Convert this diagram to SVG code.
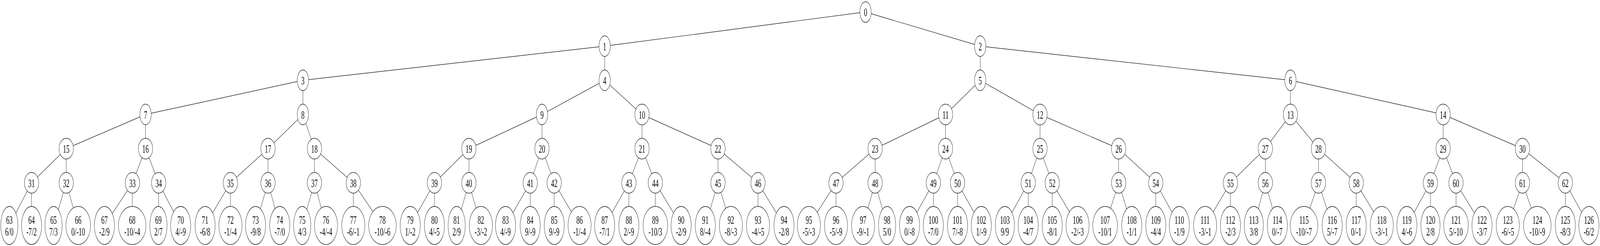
<svg xmlns="http://www.w3.org/2000/svg" width="7200" height="630" viewBox="0 0 7200 630" preserveAspectRatio="none">
<style>
@media (max-width: 7190px), (max-height: 620px) { svg{width:100vw;height:100vh;filter:grayscale(1)} }
.e{stroke:#000;stroke-width:1.2;fill:none}
.n ellipse{fill:#fff;stroke:#000;stroke-width:1.2}
.n text{font-family:"Liberation Serif","Times New Roman",serif;font-size:29px;text-anchor:middle;fill:#000;text-rendering:geometricPrecision}
</style>
<rect width="7200" height="630" fill="#fff"/>
<g id="edges" class="e">
<line x1="3894" y1="30.7" x2="2721" y2="118.2"/>
<line x1="3894" y1="30.7" x2="4411" y2="118.2"/>
<line x1="2721" y1="118.2" x2="1363" y2="205.7"/>
<line x1="2721" y1="118.2" x2="2721" y2="205.7"/>
<line x1="4411" y1="118.2" x2="4411" y2="205.7"/>
<line x1="4411" y1="118.2" x2="5807" y2="205.7"/>
<line x1="1363" y1="205.7" x2="655" y2="293.2"/>
<line x1="1363" y1="205.7" x2="1363" y2="293.2"/>
<line x1="2721" y1="205.7" x2="2439" y2="293.2"/>
<line x1="2721" y1="205.7" x2="2889" y2="293.2"/>
<line x1="4411" y1="205.7" x2="4255" y2="293.2"/>
<line x1="4411" y1="205.7" x2="4680" y2="293.2"/>
<line x1="5807" y1="205.7" x2="5807" y2="293.2"/>
<line x1="5807" y1="205.7" x2="6494" y2="293.2"/>
<line x1="655" y1="293.2" x2="298" y2="380.7"/>
<line x1="655" y1="293.2" x2="655" y2="380.7"/>
<line x1="1363" y1="293.2" x2="1206" y2="380.7"/>
<line x1="1363" y1="293.2" x2="1415" y2="380.7"/>
<line x1="2439" y1="293.2" x2="2110" y2="380.7"/>
<line x1="2439" y1="293.2" x2="2439" y2="380.7"/>
<line x1="2889" y1="293.2" x2="2889" y2="380.7"/>
<line x1="2889" y1="293.2" x2="3231" y2="380.7"/>
<line x1="4255" y1="293.2" x2="3938" y2="380.7"/>
<line x1="4255" y1="293.2" x2="4255" y2="380.7"/>
<line x1="4680" y1="293.2" x2="4680" y2="380.7"/>
<line x1="4680" y1="293.2" x2="5034" y2="380.7"/>
<line x1="5807" y1="293.2" x2="5694" y2="380.7"/>
<line x1="5807" y1="293.2" x2="5933" y2="380.7"/>
<line x1="6494" y1="293.2" x2="6494" y2="380.7"/>
<line x1="6494" y1="293.2" x2="6851" y2="380.7"/>
<line x1="298" y1="380.7" x2="142" y2="468.2"/>
<line x1="298" y1="380.7" x2="298" y2="468.2"/>
<line x1="655" y1="380.7" x2="596" y2="468.2"/>
<line x1="655" y1="380.7" x2="714" y2="468.2"/>
<line x1="1206" y1="380.7" x2="1037" y2="468.2"/>
<line x1="1206" y1="380.7" x2="1206" y2="468.2"/>
<line x1="1415" y1="380.7" x2="1415" y2="468.2"/>
<line x1="1415" y1="380.7" x2="1590" y2="468.2"/>
<line x1="2110" y1="380.7" x2="1955" y2="468.2"/>
<line x1="2110" y1="380.7" x2="2110" y2="468.2"/>
<line x1="2439" y1="380.7" x2="2386" y2="468.2"/>
<line x1="2439" y1="380.7" x2="2494" y2="468.2"/>
<line x1="2889" y1="380.7" x2="2830" y2="468.2"/>
<line x1="2889" y1="380.7" x2="2949" y2="468.2"/>
<line x1="3231" y1="380.7" x2="3231" y2="468.2"/>
<line x1="3231" y1="380.7" x2="3411" y2="468.2"/>
<line x1="3938" y1="380.7" x2="3762" y2="468.2"/>
<line x1="3938" y1="380.7" x2="3938" y2="468.2"/>
<line x1="4255" y1="380.7" x2="4200" y2="468.2"/>
<line x1="4255" y1="380.7" x2="4309" y2="468.2"/>
<line x1="4680" y1="380.7" x2="4627" y2="468.2"/>
<line x1="4680" y1="380.7" x2="4735" y2="468.2"/>
<line x1="5034" y1="380.7" x2="5034" y2="468.2"/>
<line x1="5034" y1="380.7" x2="5201" y2="468.2"/>
<line x1="5694" y1="380.7" x2="5537" y2="468.2"/>
<line x1="5694" y1="380.7" x2="5694" y2="468.2"/>
<line x1="5933" y1="380.7" x2="5933" y2="468.2"/>
<line x1="5933" y1="380.7" x2="6103" y2="468.2"/>
<line x1="6494" y1="380.7" x2="6437" y2="468.2"/>
<line x1="6494" y1="380.7" x2="6552" y2="468.2"/>
<line x1="6851" y1="380.7" x2="6851" y2="468.2"/>
<line x1="6851" y1="380.7" x2="7044" y2="468.2"/>
<line x1="142" y1="468.2" x2="42" y2="577.5"/>
<line x1="142" y1="468.2" x2="142" y2="577.5"/>
<line x1="298" y1="468.2" x2="241" y2="577.5"/>
<line x1="298" y1="468.2" x2="352" y2="577.5"/>
<line x1="596" y1="468.2" x2="470" y2="577.5"/>
<line x1="596" y1="468.2" x2="595" y2="577.5"/>
<line x1="714" y1="468.2" x2="713" y2="577.5"/>
<line x1="714" y1="468.2" x2="813" y2="577.5"/>
<line x1="1037" y1="468.2" x2="923" y2="577.5"/>
<line x1="1037" y1="468.2" x2="1037" y2="577.5"/>
<line x1="1206" y1="468.2" x2="1150" y2="577.5"/>
<line x1="1206" y1="468.2" x2="1259" y2="577.5"/>
<line x1="1415" y1="468.2" x2="1360" y2="577.5"/>
<line x1="1415" y1="468.2" x2="1467" y2="577.5"/>
<line x1="1590" y1="468.2" x2="1590" y2="577.5"/>
<line x1="1590" y1="468.2" x2="1721" y2="577.5"/>
<line x1="1955" y1="468.2" x2="1846" y2="577.5"/>
<line x1="1955" y1="468.2" x2="1955" y2="577.5"/>
<line x1="2110" y1="468.2" x2="2055" y2="577.5"/>
<line x1="2110" y1="468.2" x2="2164" y2="577.5"/>
<line x1="2386" y1="468.2" x2="2275" y2="577.5"/>
<line x1="2386" y1="468.2" x2="2386" y2="577.5"/>
<line x1="2494" y1="468.2" x2="2494" y2="577.5"/>
<line x1="2494" y1="468.2" x2="2608" y2="577.5"/>
<line x1="2830" y1="468.2" x2="2721" y2="577.5"/>
<line x1="2830" y1="468.2" x2="2830" y2="577.5"/>
<line x1="2949" y1="468.2" x2="2949" y2="577.5"/>
<line x1="2949" y1="468.2" x2="3065" y2="577.5"/>
<line x1="3231" y1="468.2" x2="3174" y2="577.5"/>
<line x1="3231" y1="468.2" x2="3289" y2="577.5"/>
<line x1="3411" y1="468.2" x2="3411" y2="577.5"/>
<line x1="3411" y1="468.2" x2="3528" y2="577.5"/>
<line x1="3762" y1="468.2" x2="3640" y2="577.5"/>
<line x1="3762" y1="468.2" x2="3762" y2="577.5"/>
<line x1="3938" y1="468.2" x2="3884" y2="577.5"/>
<line x1="3938" y1="468.2" x2="3992" y2="577.5"/>
<line x1="4200" y1="468.2" x2="4093" y2="577.5"/>
<line x1="4200" y1="468.2" x2="4200" y2="577.5"/>
<line x1="4309" y1="468.2" x2="4309" y2="577.5"/>
<line x1="4309" y1="468.2" x2="4416" y2="577.5"/>
<line x1="4627" y1="468.2" x2="4522" y2="577.5"/>
<line x1="4627" y1="468.2" x2="4627" y2="577.5"/>
<line x1="4735" y1="468.2" x2="4735" y2="577.5"/>
<line x1="4735" y1="468.2" x2="4849" y2="577.5"/>
<line x1="5034" y1="468.2" x2="4973" y2="577.5"/>
<line x1="5034" y1="468.2" x2="5093" y2="577.5"/>
<line x1="5201" y1="468.2" x2="5201" y2="577.5"/>
<line x1="5201" y1="468.2" x2="5307" y2="577.5"/>
<line x1="5537" y1="468.2" x2="5423" y2="577.5"/>
<line x1="5537" y1="468.2" x2="5537" y2="577.5"/>
<line x1="5694" y1="468.2" x2="5642" y2="577.5"/>
<line x1="5694" y1="468.2" x2="5748" y2="577.5"/>
<line x1="5933" y1="468.2" x2="5868" y2="577.5"/>
<line x1="5933" y1="468.2" x2="5995" y2="577.5"/>
<line x1="6103" y1="468.2" x2="6103" y2="577.5"/>
<line x1="6103" y1="468.2" x2="6218" y2="577.5"/>
<line x1="6437" y1="468.2" x2="6331" y2="577.5"/>
<line x1="6437" y1="468.2" x2="6437" y2="577.5"/>
<line x1="6552" y1="468.2" x2="6552" y2="577.5"/>
<line x1="6552" y1="468.2" x2="6669" y2="577.5"/>
<line x1="6851" y1="468.2" x2="6785" y2="577.5"/>
<line x1="6851" y1="468.2" x2="6918" y2="577.5"/>
<line x1="7044" y1="468.2" x2="7044" y2="577.5"/>
<line x1="7044" y1="468.2" x2="7150" y2="577.5"/>
</g>
<g id="nodes" class="n">
<g id="n0"><ellipse cx="3895" cy="30.8" rx="25.5" ry="26.5"/><text x="3895" y="41">0</text></g>
<g id="n1"><ellipse cx="2721" cy="118.2" rx="25.5" ry="26.5"/><text x="2721" y="128.5">1</text></g>
<g id="n2"><ellipse cx="4411" cy="118.2" rx="25.5" ry="26.5"/><text x="4411" y="128.5">2</text></g>
<g id="n3"><ellipse cx="1363" cy="205.7" rx="25.5" ry="26.5"/><text x="1363" y="216">3</text></g>
<g id="n4"><ellipse cx="2721" cy="205.7" rx="25.5" ry="26.5"/><text x="2721" y="216">4</text></g>
<g id="n5"><ellipse cx="4411" cy="205.7" rx="25.5" ry="26.5"/><text x="4411" y="216">5</text></g>
<g id="n6"><ellipse cx="5807" cy="205.7" rx="25.5" ry="26.5"/><text x="5807" y="216">6</text></g>
<g id="n7"><ellipse cx="655" cy="293.2" rx="25.5" ry="26.5"/><text x="655" y="303.5">7</text></g>
<g id="n8"><ellipse cx="1363" cy="293.2" rx="25.5" ry="26.5"/><text x="1363" y="303.5">8</text></g>
<g id="n9"><ellipse cx="2439" cy="293.2" rx="25.5" ry="26.5"/><text x="2439" y="303.5">9</text></g>
<g id="n10"><ellipse cx="2889" cy="293.2" rx="32.3" ry="26.5"/><text x="2889" y="303.5">10</text></g>
<g id="n11"><ellipse cx="4255" cy="293.2" rx="32.3" ry="26.5"/><text x="4255" y="303.5">11</text></g>
<g id="n12"><ellipse cx="4680" cy="293.2" rx="32.3" ry="26.5"/><text x="4680" y="303.5">12</text></g>
<g id="n13"><ellipse cx="5807" cy="293.2" rx="32.3" ry="26.5"/><text x="5807" y="303.5">13</text></g>
<g id="n14"><ellipse cx="6494" cy="293.2" rx="32.3" ry="26.5"/><text x="6494" y="303.5">14</text></g>
<g id="n15"><ellipse cx="298" cy="380.7" rx="32.3" ry="26.5"/><text x="298" y="391">15</text></g>
<g id="n16"><ellipse cx="655" cy="380.7" rx="32.3" ry="26.5"/><text x="655" y="391">16</text></g>
<g id="n17"><ellipse cx="1206" cy="380.7" rx="32.3" ry="26.5"/><text x="1206" y="391">17</text></g>
<g id="n18"><ellipse cx="1415" cy="380.7" rx="32.3" ry="26.5"/><text x="1415" y="391">18</text></g>
<g id="n19"><ellipse cx="2110" cy="380.7" rx="32.3" ry="26.5"/><text x="2110" y="391">19</text></g>
<g id="n20"><ellipse cx="2439" cy="380.7" rx="32.3" ry="26.5"/><text x="2439" y="391">20</text></g>
<g id="n21"><ellipse cx="2889" cy="380.7" rx="32.3" ry="26.5"/><text x="2889" y="391">21</text></g>
<g id="n22"><ellipse cx="3231" cy="380.7" rx="32.3" ry="26.5"/><text x="3231" y="391">22</text></g>
<g id="n23"><ellipse cx="3938" cy="380.7" rx="32.3" ry="26.5"/><text x="3938" y="391">23</text></g>
<g id="n24"><ellipse cx="4255" cy="380.7" rx="32.3" ry="26.5"/><text x="4255" y="391">24</text></g>
<g id="n25"><ellipse cx="4680" cy="380.7" rx="32.3" ry="26.5"/><text x="4680" y="391">25</text></g>
<g id="n26"><ellipse cx="5034" cy="380.7" rx="32.3" ry="26.5"/><text x="5034" y="391">26</text></g>
<g id="n27"><ellipse cx="5694" cy="380.7" rx="32.3" ry="26.5"/><text x="5694" y="391">27</text></g>
<g id="n28"><ellipse cx="5933" cy="380.7" rx="32.3" ry="26.5"/><text x="5933" y="391">28</text></g>
<g id="n29"><ellipse cx="6494" cy="380.7" rx="32.3" ry="26.5"/><text x="6494" y="391">29</text></g>
<g id="n30"><ellipse cx="6851" cy="380.7" rx="32.3" ry="26.5"/><text x="6851" y="391">30</text></g>
<g id="n31"><ellipse cx="142" cy="468.2" rx="32.3" ry="26.5"/><text x="142" y="478.5">31</text></g>
<g id="n32"><ellipse cx="298" cy="468.2" rx="32.3" ry="26.5"/><text x="298" y="478.5">32</text></g>
<g id="n33"><ellipse cx="596" cy="468.2" rx="32.3" ry="26.5"/><text x="596" y="478.5">33</text></g>
<g id="n34"><ellipse cx="714" cy="468.2" rx="32.3" ry="26.5"/><text x="714" y="478.5">34</text></g>
<g id="n35"><ellipse cx="1037" cy="468.2" rx="32.3" ry="26.5"/><text x="1037" y="478.5">35</text></g>
<g id="n36"><ellipse cx="1206" cy="468.2" rx="32.3" ry="26.5"/><text x="1206" y="478.5">36</text></g>
<g id="n37"><ellipse cx="1415" cy="468.2" rx="32.3" ry="26.5"/><text x="1415" y="478.5">37</text></g>
<g id="n38"><ellipse cx="1590" cy="468.2" rx="32.3" ry="26.5"/><text x="1590" y="478.5">38</text></g>
<g id="n39"><ellipse cx="1955" cy="468.2" rx="32.3" ry="26.5"/><text x="1955" y="478.5">39</text></g>
<g id="n40"><ellipse cx="2110" cy="468.2" rx="32.3" ry="26.5"/><text x="2110" y="478.5">40</text></g>
<g id="n41"><ellipse cx="2386" cy="468.2" rx="32.3" ry="26.5"/><text x="2386" y="478.5">41</text></g>
<g id="n42"><ellipse cx="2494" cy="468.2" rx="32.3" ry="26.5"/><text x="2494" y="478.5">42</text></g>
<g id="n43"><ellipse cx="2830" cy="468.2" rx="32.3" ry="26.5"/><text x="2830" y="478.5">43</text></g>
<g id="n44"><ellipse cx="2949" cy="468.2" rx="32.3" ry="26.5"/><text x="2949" y="478.5">44</text></g>
<g id="n45"><ellipse cx="3231" cy="468.2" rx="32.3" ry="26.5"/><text x="3231" y="478.5">45</text></g>
<g id="n46"><ellipse cx="3411" cy="468.2" rx="32.3" ry="26.5"/><text x="3411" y="478.5">46</text></g>
<g id="n47"><ellipse cx="3762" cy="468.2" rx="32.3" ry="26.5"/><text x="3762" y="478.5">47</text></g>
<g id="n48"><ellipse cx="3938" cy="468.2" rx="32.3" ry="26.5"/><text x="3938" y="478.5">48</text></g>
<g id="n49"><ellipse cx="4200" cy="468.2" rx="32.3" ry="26.5"/><text x="4200" y="478.5">49</text></g>
<g id="n50"><ellipse cx="4309" cy="468.2" rx="32.3" ry="26.5"/><text x="4309" y="478.5">50</text></g>
<g id="n51"><ellipse cx="4627" cy="468.2" rx="32.3" ry="26.5"/><text x="4627" y="478.5">51</text></g>
<g id="n52"><ellipse cx="4735" cy="468.2" rx="32.3" ry="26.5"/><text x="4735" y="478.5">52</text></g>
<g id="n53"><ellipse cx="5034" cy="468.2" rx="32.3" ry="26.5"/><text x="5034" y="478.5">53</text></g>
<g id="n54"><ellipse cx="5201" cy="468.2" rx="32.3" ry="26.5"/><text x="5201" y="478.5">54</text></g>
<g id="n55"><ellipse cx="5537" cy="468.2" rx="32.3" ry="26.5"/><text x="5537" y="478.5">55</text></g>
<g id="n56"><ellipse cx="5694" cy="468.2" rx="32.3" ry="26.5"/><text x="5694" y="478.5">56</text></g>
<g id="n57"><ellipse cx="5933" cy="468.2" rx="32.3" ry="26.5"/><text x="5933" y="478.5">57</text></g>
<g id="n58"><ellipse cx="6103" cy="468.2" rx="32.3" ry="26.5"/><text x="6103" y="478.5">58</text></g>
<g id="n59"><ellipse cx="6437" cy="468.2" rx="32.3" ry="26.5"/><text x="6437" y="478.5">59</text></g>
<g id="n60"><ellipse cx="6552" cy="468.2" rx="32.3" ry="26.5"/><text x="6552" y="478.5">60</text></g>
<g id="n61"><ellipse cx="6851" cy="468.2" rx="32.3" ry="26.5"/><text x="6851" y="478.5">61</text></g>
<g id="n62"><ellipse cx="7044" cy="468.2" rx="32.3" ry="26.5"/><text x="7044" y="478.5">62</text></g>
<g id="n63"><ellipse cx="42" cy="577.5" rx="38.7" ry="48.8"/><text x="42" y="573">63</text><text x="42" y="603">6/0</text></g>
<g id="n64"><ellipse cx="142" cy="577.5" rx="45.3" ry="48.8"/><text x="142" y="573">64</text><text x="142" y="603">-7/2</text></g>
<g id="n65"><ellipse cx="241" cy="577.5" rx="38.7" ry="48.8"/><text x="241" y="573">65</text><text x="241" y="603">7/3</text></g>
<g id="n66"><ellipse cx="352" cy="577.5" rx="55.5" ry="48.8"/><text x="352" y="573">66</text><text x="352" y="603">0/-10</text></g>
<g id="n67"><ellipse cx="470" cy="577.5" rx="45.3" ry="48.8"/><text x="470" y="573">67</text><text x="470" y="603">-2/9</text></g>
<g id="n68"><ellipse cx="595" cy="577.5" rx="62.2" ry="48.8"/><text x="595" y="573">68</text><text x="595" y="603">-10/-4</text></g>
<g id="n69"><ellipse cx="713" cy="577.5" rx="38.7" ry="48.8"/><text x="713" y="573">69</text><text x="713" y="603">2/7</text></g>
<g id="n70"><ellipse cx="813" cy="577.5" rx="45.3" ry="48.8"/><text x="813" y="573">70</text><text x="813" y="603">4/-9</text></g>
<g id="n71"><ellipse cx="923" cy="577.5" rx="45.3" ry="48.8"/><text x="923" y="573">71</text><text x="923" y="603">-6/8</text></g>
<g id="n72"><ellipse cx="1037" cy="577.5" rx="52.1" ry="48.8"/><text x="1037" y="573">72</text><text x="1037" y="603">-1/-4</text></g>
<g id="n73"><ellipse cx="1150" cy="577.5" rx="45.3" ry="48.8"/><text x="1150" y="573">73</text><text x="1150" y="603">-9/8</text></g>
<g id="n74"><ellipse cx="1259" cy="577.5" rx="45.3" ry="48.8"/><text x="1259" y="573">74</text><text x="1259" y="603">-7/0</text></g>
<g id="n75"><ellipse cx="1360" cy="577.5" rx="38.7" ry="48.8"/><text x="1360" y="573">75</text><text x="1360" y="603">4/3</text></g>
<g id="n76"><ellipse cx="1467" cy="577.5" rx="52.1" ry="48.8"/><text x="1467" y="573">76</text><text x="1467" y="603">-4/-4</text></g>
<g id="n77"><ellipse cx="1590" cy="577.5" rx="52.1" ry="48.8"/><text x="1590" y="573">77</text><text x="1590" y="603">-6/-1</text></g>
<g id="n78"><ellipse cx="1721" cy="577.5" rx="62.2" ry="48.8"/><text x="1721" y="573">78</text><text x="1721" y="603">-10/-6</text></g>
<g id="n79"><ellipse cx="1846" cy="577.5" rx="45.3" ry="48.8"/><text x="1846" y="573">79</text><text x="1846" y="603">1/-2</text></g>
<g id="n80"><ellipse cx="1955" cy="577.5" rx="45.3" ry="48.8"/><text x="1955" y="573">80</text><text x="1955" y="603">4/-5</text></g>
<g id="n81"><ellipse cx="2055" cy="577.5" rx="38.7" ry="48.8"/><text x="2055" y="573">81</text><text x="2055" y="603">2/9</text></g>
<g id="n82"><ellipse cx="2164" cy="577.5" rx="52.1" ry="48.8"/><text x="2164" y="573">82</text><text x="2164" y="603">-3/-2</text></g>
<g id="n83"><ellipse cx="2275" cy="577.5" rx="45.3" ry="48.8"/><text x="2275" y="573">83</text><text x="2275" y="603">4/-9</text></g>
<g id="n84"><ellipse cx="2386" cy="577.5" rx="45.3" ry="48.8"/><text x="2386" y="573">84</text><text x="2386" y="603">9/-9</text></g>
<g id="n85"><ellipse cx="2494" cy="577.5" rx="45.3" ry="48.8"/><text x="2494" y="573">85</text><text x="2494" y="603">9/-9</text></g>
<g id="n86"><ellipse cx="2608" cy="577.5" rx="52.1" ry="48.8"/><text x="2608" y="573">86</text><text x="2608" y="603">-1/-4</text></g>
<g id="n87"><ellipse cx="2721" cy="577.5" rx="45.3" ry="48.8"/><text x="2721" y="573">87</text><text x="2721" y="603">-7/1</text></g>
<g id="n88"><ellipse cx="2830" cy="577.5" rx="45.3" ry="48.8"/><text x="2830" y="573">88</text><text x="2830" y="603">2/-9</text></g>
<g id="n89"><ellipse cx="2949" cy="577.5" rx="55.5" ry="48.8"/><text x="2949" y="573">89</text><text x="2949" y="603">-10/3</text></g>
<g id="n90"><ellipse cx="3065" cy="577.5" rx="45.3" ry="48.8"/><text x="3065" y="573">90</text><text x="3065" y="603">-2/9</text></g>
<g id="n91"><ellipse cx="3174" cy="577.5" rx="45.3" ry="48.8"/><text x="3174" y="573">91</text><text x="3174" y="603">8/-4</text></g>
<g id="n92"><ellipse cx="3289" cy="577.5" rx="52.1" ry="48.8"/><text x="3289" y="573">92</text><text x="3289" y="603">-8/-3</text></g>
<g id="n93"><ellipse cx="3411" cy="577.5" rx="52.1" ry="48.8"/><text x="3411" y="573">93</text><text x="3411" y="603">-4/-5</text></g>
<g id="n94"><ellipse cx="3528" cy="577.5" rx="45.3" ry="48.8"/><text x="3528" y="573">94</text><text x="3528" y="603">-2/8</text></g>
<g id="n95"><ellipse cx="3640" cy="577.5" rx="52.1" ry="48.8"/><text x="3640" y="573">95</text><text x="3640" y="603">-5/-3</text></g>
<g id="n96"><ellipse cx="3762" cy="577.5" rx="52.1" ry="48.8"/><text x="3762" y="573">96</text><text x="3762" y="603">-5/-9</text></g>
<g id="n97"><ellipse cx="3884" cy="577.5" rx="52.1" ry="48.8"/><text x="3884" y="573">97</text><text x="3884" y="603">-9/-1</text></g>
<g id="n98"><ellipse cx="3992" cy="577.5" rx="38.7" ry="48.8"/><text x="3992" y="573">98</text><text x="3992" y="603">5/0</text></g>
<g id="n99"><ellipse cx="4093" cy="577.5" rx="45.3" ry="48.8"/><text x="4093" y="573">99</text><text x="4093" y="603">0/-8</text></g>
<g id="n100"><ellipse cx="4200" cy="577.5" rx="45.3" ry="48.8"/><text x="4200" y="573">100</text><text x="4200" y="603">-7/0</text></g>
<g id="n101"><ellipse cx="4309" cy="577.5" rx="45.3" ry="48.8"/><text x="4309" y="573">101</text><text x="4309" y="603">7/-8</text></g>
<g id="n102"><ellipse cx="4416" cy="577.5" rx="45.3" ry="48.8"/><text x="4416" y="573">102</text><text x="4416" y="603">1/-9</text></g>
<g id="n103"><ellipse cx="4522" cy="577.5" rx="43.1" ry="48.8"/><text x="4522" y="573">103</text><text x="4522" y="603">9/9</text></g>
<g id="n104"><ellipse cx="4627" cy="577.5" rx="45.3" ry="48.8"/><text x="4627" y="573">104</text><text x="4627" y="603">-4/7</text></g>
<g id="n105"><ellipse cx="4735" cy="577.5" rx="45.3" ry="48.8"/><text x="4735" y="573">105</text><text x="4735" y="603">-8/1</text></g>
<g id="n106"><ellipse cx="4849" cy="577.5" rx="52.1" ry="48.8"/><text x="4849" y="573">106</text><text x="4849" y="603">-2/-3</text></g>
<g id="n107"><ellipse cx="4973" cy="577.5" rx="55.5" ry="48.8"/><text x="4973" y="573">107</text><text x="4973" y="603">-10/1</text></g>
<g id="n108"><ellipse cx="5093" cy="577.5" rx="45.3" ry="48.8"/><text x="5093" y="573">108</text><text x="5093" y="603">-1/1</text></g>
<g id="n109"><ellipse cx="5201" cy="577.5" rx="45.3" ry="48.8"/><text x="5201" y="573">109</text><text x="5201" y="603">-4/4</text></g>
<g id="n110"><ellipse cx="5307" cy="577.5" rx="45.3" ry="48.8"/><text x="5307" y="573">110</text><text x="5307" y="603">-1/9</text></g>
<g id="n111"><ellipse cx="5423" cy="577.5" rx="52.1" ry="48.8"/><text x="5423" y="573">111</text><text x="5423" y="603">-3/-1</text></g>
<g id="n112"><ellipse cx="5537" cy="577.5" rx="45.3" ry="48.8"/><text x="5537" y="573">112</text><text x="5537" y="603">-2/3</text></g>
<g id="n113"><ellipse cx="5642" cy="577.5" rx="43.1" ry="48.8"/><text x="5642" y="573">113</text><text x="5642" y="603">3/8</text></g>
<g id="n114"><ellipse cx="5748" cy="577.5" rx="45.3" ry="48.8"/><text x="5748" y="573">114</text><text x="5748" y="603">0/-7</text></g>
<g id="n115"><ellipse cx="5868" cy="577.5" rx="62.2" ry="48.8"/><text x="5868" y="573">115</text><text x="5868" y="603">-10/-7</text></g>
<g id="n116"><ellipse cx="5995" cy="577.5" rx="45.3" ry="48.8"/><text x="5995" y="573">116</text><text x="5995" y="603">5/-7</text></g>
<g id="n117"><ellipse cx="6103" cy="577.5" rx="45.3" ry="48.8"/><text x="6103" y="573">117</text><text x="6103" y="603">0/-1</text></g>
<g id="n118"><ellipse cx="6218" cy="577.5" rx="52.1" ry="48.8"/><text x="6218" y="573">118</text><text x="6218" y="603">-3/-1</text></g>
<g id="n119"><ellipse cx="6331" cy="577.5" rx="45.3" ry="48.8"/><text x="6331" y="573">119</text><text x="6331" y="603">4/-6</text></g>
<g id="n120"><ellipse cx="6437" cy="577.5" rx="43.1" ry="48.8"/><text x="6437" y="573">120</text><text x="6437" y="603">2/8</text></g>
<g id="n121"><ellipse cx="6552" cy="577.5" rx="55.5" ry="48.8"/><text x="6552" y="573">121</text><text x="6552" y="603">5/-10</text></g>
<g id="n122"><ellipse cx="6669" cy="577.5" rx="45.3" ry="48.8"/><text x="6669" y="573">122</text><text x="6669" y="603">-3/7</text></g>
<g id="n123"><ellipse cx="6785" cy="577.5" rx="52.1" ry="48.8"/><text x="6785" y="573">123</text><text x="6785" y="603">-6/-5</text></g>
<g id="n124"><ellipse cx="6918" cy="577.5" rx="62.2" ry="48.8"/><text x="6918" y="573">124</text><text x="6918" y="603">-10/-9</text></g>
<g id="n125"><ellipse cx="7044" cy="577.5" rx="45.3" ry="48.8"/><text x="7044" y="573">125</text><text x="7044" y="603">-8/3</text></g>
<g id="n126"><ellipse cx="7150" cy="577.5" rx="45.3" ry="48.8"/><text x="7150" y="573">126</text><text x="7150" y="603">-6/2</text></g>
</g>
</svg>
